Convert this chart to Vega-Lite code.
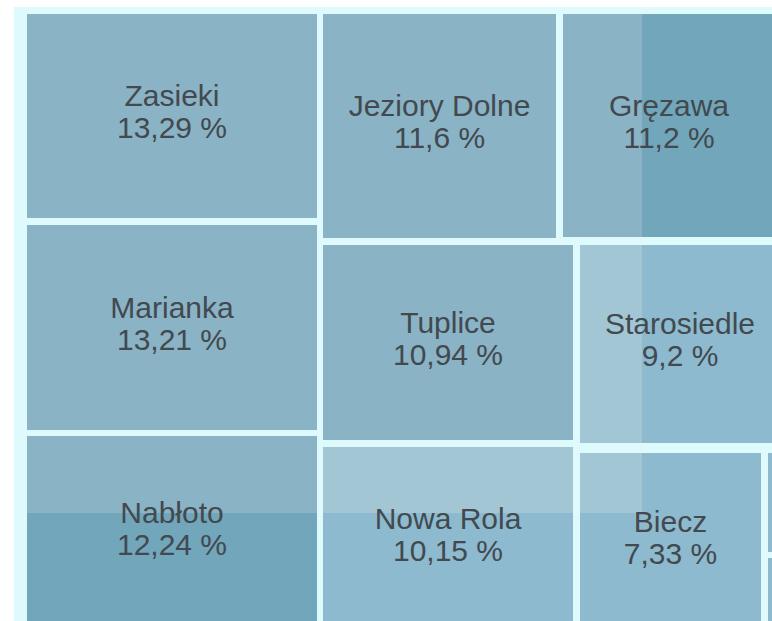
{
  "$schema": "https://vega.github.io/schema/vega-lite/v6.json",
  "width": 772,
  "height": 621,
  "autosize": {"type": "fit", "contains": "padding"},
  "padding": 0,
  "background": "white",
  "config": {"view": {"stroke": null}},
  "datasets": {
    "frame": [{"x": 14, "x2": 800, "y": 7, "y2": 640}],
    "cells": [
      {"name": "Zasieki", "pct": "13,29 %", "value": 13.29, "x": 27, "x2": 317, "y": 14, "y2": 218, "tone": "base"},
      {"name": "Marianka", "pct": "13,21 %", "value": 13.21, "x": 27, "x2": 317, "y": 225, "y2": 430, "tone": "base"},
      {"name": "Nabłoto", "pct": "12,24 %", "value": 12.24, "x": 27, "x2": 317, "y": 436, "y2": 630, "tone": "base"},
      {"name": "Jeziory Dolne", "pct": "11,6 %", "value": 11.6, "x": 323, "x2": 556, "y": 14, "y2": 238, "tone": "base"},
      {"name": "Tuplice", "pct": "10,94 %", "value": 10.94, "x": 323, "x2": 573, "y": 245, "y2": 440, "tone": "base"},
      {"name": "Nowa Rola", "pct": "10,15 %", "value": 10.15, "x": 323, "x2": 573, "y": 447, "y2": 630, "tone": "cyan"},
      {"name": "Gręzawa", "pct": "11,2 %", "value": 11.2, "x": 563, "x2": 775, "y": 14, "y2": 237, "tone": "base"},
      {"name": "Starosiedle", "pct": "9,2 %", "value": 9.2, "x": 580, "x2": 780, "y": 245, "y2": 443, "tone": "cyan"},
      {"name": "Biecz", "pct": "7,33 %", "value": 7.33, "x": 580, "x2": 761, "y": 453, "y2": 630, "tone": "cyan"},
      {"name": "", "pct": "", "value": 1, "x": 768, "x2": 800, "y": 453, "y2": 552, "tone": "cyan"},
      {"name": "", "pct": "", "value": 1, "x": 768, "x2": 800, "y": 558, "y2": 630, "tone": "cyan"}
    ],
    "shade": [
      {"x": 642, "x2": 775, "y": 14, "y2": 237, "tone": "dark"},
      {"x": 580, "x2": 642, "y": 245, "y2": 443, "tone": "light"},
      {"x": 580, "x2": 642, "y": 453, "y2": 513, "tone": "light"},
      {"x": 323, "x2": 573, "y": 447, "y2": 513, "tone": "light"},
      {"x": 27, "x2": 317, "y": 513, "y2": 630, "tone": "dark"}
    ]
  },
  "layer": [
    {
      "data": {"name": "frame"},
      "mark": {"type": "rect", "fill": "#DFFAFD", "clip": true},
      "encoding": {
        "x": {"field": "x", "type": "quantitative", "scale": {"domain": [0, 772], "nice": false, "zero": false}, "axis": null},
        "x2": {"field": "x2"},
        "y": {"field": "y", "type": "quantitative", "scale": {"domain": [0, 621], "reverse": true, "nice": false, "zero": false}, "axis": null},
        "y2": {"field": "y2"}
      }
    },
    {
      "data": {"name": "cells"},
      "mark": {"type": "rect", "clip": true},
      "encoding": {
        "x": {"field": "x", "type": "quantitative", "scale": {"domain": [0, 772], "nice": false, "zero": false}, "axis": null},
        "x2": {"field": "x2"},
        "y": {"field": "y", "type": "quantitative", "scale": {"domain": [0, 621], "reverse": true, "nice": false, "zero": false}, "axis": null},
        "y2": {"field": "y2"},
        "fill": {"field": "tone", "type": "nominal", "scale": {"domain": ["base", "cyan", "light", "dark"], "range": ["#8AB3C5", "#8DBACE", "#A3C6D5", "#72A6BB"]}, "legend": null}
      }
    },
    {
      "data": {"name": "shade"},
      "mark": {"type": "rect", "clip": true},
      "encoding": {
        "x": {"field": "x", "type": "quantitative", "scale": {"domain": [0, 772], "nice": false, "zero": false}, "axis": null},
        "x2": {"field": "x2"},
        "y": {"field": "y", "type": "quantitative", "scale": {"domain": [0, 621], "reverse": true, "nice": false, "zero": false}, "axis": null},
        "y2": {"field": "y2"},
        "fill": {"field": "tone", "type": "nominal", "scale": {"domain": ["base", "cyan", "light", "dark"], "range": ["#8AB3C5", "#8DBACE", "#A3C6D5", "#72A6BB"]}, "legend": null}
      }
    },
    {
      "data": {"name": "cells"},
      "transform": [
        {"filter": "datum.name != ''"},
        {"calculate": "(datum.x + datum.x2) / 2", "as": "cx"},
        {"calculate": "(datum.y + datum.y2) / 2", "as": "cy"}
      ],
      "mark": {"type": "text", "font": "Liberation Sans", "fontSize": 30, "color": "#42494f", "baseline": "alphabetic", "align": "center", "dy": -10, "clip": true},
      "encoding": {
        "x": {"field": "cx", "type": "quantitative", "scale": {"domain": [0, 772], "nice": false, "zero": false}, "axis": null},
        "y": {"field": "cy", "type": "quantitative", "scale": {"domain": [0, 621], "reverse": true, "nice": false, "zero": false}, "axis": null},
        "text": {"field": "name"}
      }
    },
    {
      "data": {"name": "cells"},
      "transform": [
        {"filter": "datum.name != ''"},
        {"calculate": "(datum.x + datum.x2) / 2", "as": "cx"},
        {"calculate": "(datum.y + datum.y2) / 2", "as": "cy"}
      ],
      "mark": {"type": "text", "font": "Liberation Sans", "fontSize": 30, "color": "#42494f", "baseline": "alphabetic", "align": "center", "dy": 22, "clip": true},
      "encoding": {
        "x": {"field": "cx", "type": "quantitative", "scale": {"domain": [0, 772], "nice": false, "zero": false}, "axis": null},
        "y": {"field": "cy", "type": "quantitative", "scale": {"domain": [0, 621], "reverse": true, "nice": false, "zero": false}, "axis": null},
        "text": {"field": "pct"}
      }
    }
  ]
}
